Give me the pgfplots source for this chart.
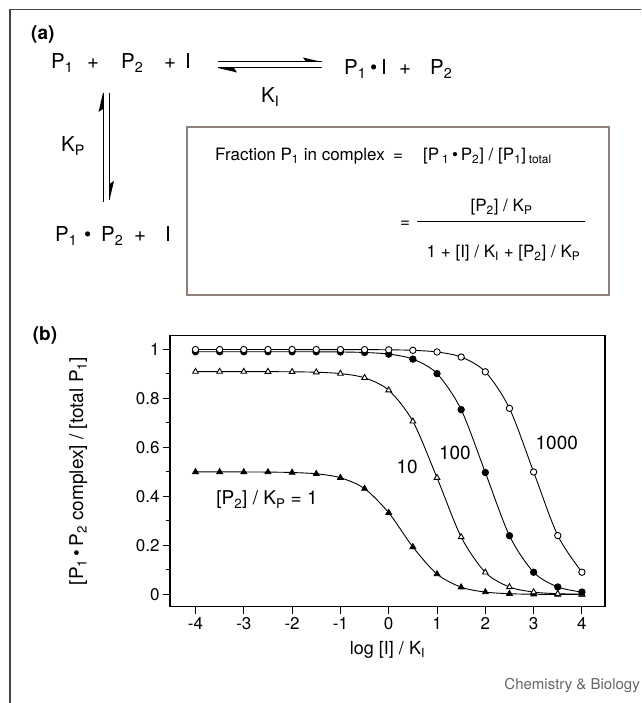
\documentclass[border=0pt]{standalone}
\usepackage{fontspec}
\setmainfont{TeX Gyre Heros}
\usepackage{pgfplots}
\pgfplotsset{compat=1.18}

\newcommand{\fs}[1]{\fontsize{#1}{#1}\selectfont}
\newcommand{\sub}[1]{\textsubscript{#1}}
\definecolor{boxgray}{RGB}{140,128,120}
\definecolor{framegray}{RGB}{70,70,70}

\begin{document}
\begin{tikzpicture}
\useasboundingbox (0,0) rectangle (641pt,703pt);

% ---- panel (a): scheme, drawn in pixel-like units
\begin{scope}[x=1pt,y=1pt,every node/.style={inner sep=0pt}]
  \draw[line width=1.3pt, framegray] (10,0) -- (10,693.5) -- (641,693.5);
  \node[anchor=west, font=\fs{19}\bfseries] at (31,668.5) {(a)};

  \begin{scope}[every node/.append style={anchor=base west, font=\fs{20.5}}]
    % P1 + P2 + I
    \node at (51,634) {P\sub{1}};
    \node at (87,634) {+};
    \node at (121,634) {P\sub{2}};
    \node at (164,634) {+};
    \node at (185,634) {I};
    % P1 . I + P2
    \node at (344,628) {P\sub{1}};
    \node at (370,628) {•};
    \node at (381,628) {I};
    \node at (399,628) {+};
    \node at (430,628) {P\sub{2}};
    \node at (261,600) {K\sub{I}};
    \node at (61,551) {K\sub{P}};
    % P1 . P2 + I
    \node at (55,461) {P\sub{1}};
    \node at (84,461) {•};
    \node at (101,461) {P\sub{2}};
    \node at (134,461) {+};
    \node at (165,461) {I};
  \end{scope}

  % equilibrium arrows
  \draw[line width=1pt] (218,641) -- (322,641);
  \fill (322,641) -- (303,645.5) -- (306,641) -- cycle;
  \draw[line width=1pt] (218,635) -- (322,635);
  \fill (218,635) -- (237,630.5) -- (234,635) -- cycle;

  \draw[line width=1pt] (103,610) -- (103,501.3);
  \fill (103,610) -- (98.5,591) -- (103,594) -- cycle;
  \draw[line width=1pt] (109.5,610) -- (109.5,503);
  \fill (109.5,503) -- (114,522) -- (109.5,519) -- cycle;

  % equation box
  \draw[line width=1.5pt, boxgray] (187,576) rectangle (609,408);
  \begin{scope}[every node/.append style={font=\fs{17}}]
    \node[anchor=base west] at (215,542) {Fraction P\sub{1} in complex};
    \node[anchor=base west] at (393,542) {=};
    \node[anchor=base west] at (423,542) {[P\,\sub{1}\,•\,P\sub{2}] / [P\sub{1}]\,\sub{total}};
    \node[anchor=base west] at (400,475.7) {=};
    \node[anchor=base] at (501.5,491) {[P\sub{2}] / K\sub{P}};
    \node[anchor=base] at (503.5,445) {1 + [I] / K\sub{I} + [P\sub{2}] / K\sub{P}};
  \end{scope}
  \draw[line width=0.8pt] (417,481.3) -- (585,481.3);

  % panel (b) tag and credit
  \node[anchor=center, font=\fs{19}\bfseries] at (45,368) {(b)};
  \node[anchor=base east, font=\fs{15}, text=black!60] at (640,13) {Chemistry \& Biology};
\end{scope}

% ---- panel (b): plot
\begin{axis}[
  at={(170pt,96.3pt)}, anchor=south west,
  width=435pt, height=271pt, scale only axis,
  xmin=-4.528, xmax=4.478, ymin=-0.0498, ymax=1.0555,
  xtick={-4,-3,...,4},
  ytick={0,0.2,0.4,0.6,0.8,1},
  minor ytick={0.1,0.3,0.5,0.7,0.9},
  xtick pos=bottom, ytick pos=left,
  tick align=outside,
  major tick length=7pt, minor tick length=4.5pt,
  every tick/.style={black, line width=1pt},
  axis line style={line width=1.3pt},
  tick label style={font=\fs{17}},
  /pgf/number format/assume math mode=true,
  xlabel={log [I] / K\sub{I}},
  xlabel style={font=\fs{18}, yshift=-5pt},
  ylabel={[P\sub{1}\,•\,P\sub{2} complex] / [total P\sub{1}]},
  ylabel style={font=\fs{19}, at={(axis description cs:-0.211,0.5)}, anchor=center},
  clip=false,
]
% [P2]/KP = 1
\addplot[black, line width=0.9pt, smooth, mark=triangle*, mark size=3.3pt,
  mark options={solid, fill=black}] coordinates {
  (-4,0.499975) (-3.5,0.499921) (-3,0.49975) (-2.5,0.49921) (-2,0.49751)
  (-1.5,0.49222) (-1,0.47619) (-0.5,0.43174) (0,0.33333) (0.5,0.19371)
  (1,0.08333) (1.5,0.029742) (2,0.009804) (2.5,0.003142) (3,0.000998)
  (3.5,0.000316) (4,0.0001)
};
% [P2]/KP = 10
\addplot[black, line width=0.9pt, smooth, mark=triangle*, mark size=3.3pt,
  mark options={solid, fill=white}] coordinates {
  (-4,0.909083) (-3.5,0.909065) (-3,0.909008) (-2.5,0.908830) (-2,0.908265)
  (-1.5,0.906486) (-1,0.900901) (-0.5,0.883687) (0,0.833333) (0.5,0.706100)
  (1,0.476190) (1.5,0.234616) (2,0.090090) (2.5,0.030560) (3,0.009891)
  (3.5,0.003151) (4,0.000999)
};
% [P2]/KP = 100
\addplot[black, line width=0.9pt, smooth, mark=*, mark size=3.2pt,
  mark options={solid, fill=black}] coordinates {
  (-4,0.990098) (-3.5,0.990096) (-3,0.990089) (-2.5,0.990068) (-2,0.989998)
  (-1.5,0.989789) (-1,0.989120) (-0.5,0.987009) (0,0.980392) (0.5,0.960040)
  (1,0.900901) (1.5,0.754018) (2,0.497512) (2.5,0.239677) (3,0.090827)
  (3.5,0.030644) (4,0.009900)
};
% [P2]/KP = 1000
\addplot[black, line width=0.9pt, smooth, mark=*, mark size=3.2pt,
  mark options={solid, fill=white}] coordinates {
  (-4,0.999001) (-3.5,0.999001) (-3,0.999000) (-2.5,0.998998) (-2,0.998991)
  (-1.5,0.998969) (-1,0.998901) (-0.5,0.998686) (0,0.998004) (0.5,0.995855)
  (1,0.989120) (1.5,0.968408) (2,0.908265) (2.5,0.759170) (3,0.499750)
  (3.5,0.240195) (4,0.090901)
};
\node[font=\fs{19}] at (axis cs:3.48,0.618) {1000};
\node[font=\fs{19}] at (axis cs:1.37,0.577) {100};
\node[font=\fs{19}] at (axis cs:0.38,0.52) {10};
\node[font=\fs{19}] at (axis cs:-2.52,0.386) {[P\sub{2}] / K\sub{P} = 1};
\end{axis}
\end{tikzpicture}
\end{document}
